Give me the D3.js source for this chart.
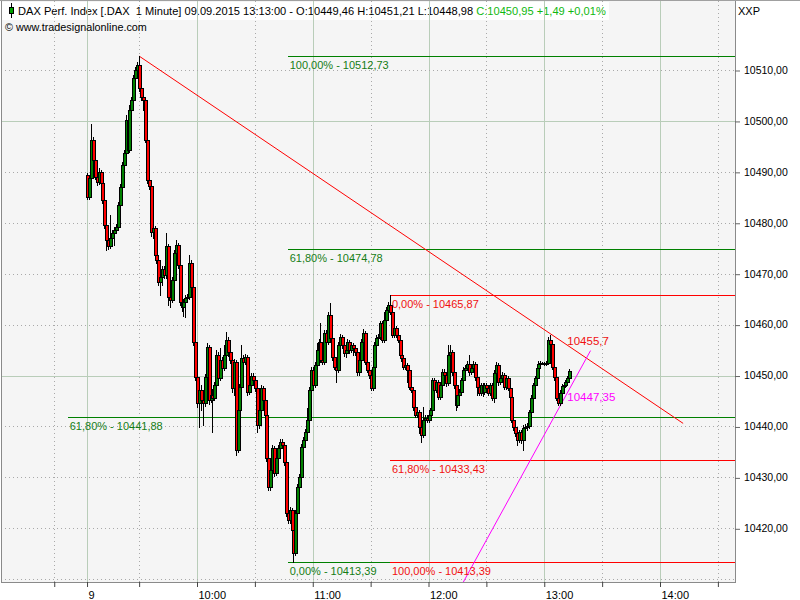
<!DOCTYPE html>
<html><head><meta charset="utf-8">
<script src="https://cdn.jsdelivr.net/npm/d3@7"></script>
<style>
body{margin:0;background:#fff}
svg{display:block}
text{font-family:"Liberation Sans",Arial,sans-serif}
</style>
</head><body>
<svg id="chart" width="800" height="600"></svg>
<script>
// ---------- DATA ----------
const sessionDate = [2015, 8, 9];
const firstBar = "09:03";
const opens = [
10489.4,10485.1,10488.8,10496.3,10492.3,10489.0,10488.0,10490.0,10487.8,10484.5,
10479.6,10476.6,10475.4,10477.0,10478.0,10478.6,10479.2,10483.5,10487.0,10491.4,
10493.7,10500.2,10494.3,10502.2,10504.1,10508.4,10510.0,10511.0,10506.5,10504.7,
10504.1,10496.3,10488.4,10487.2,10478.2,10479.0,10473.7,10472.7,10468.4,10469.4,
10470.9,10469.7,10475.4,10465.4,10464.8,10468.8,10474.1,10475.6,10471.7,10464.4,
10463.5,10464.4,10465.2,10465.4,10472.1,10467.4,10456.6,10449.7,10444.6,10447.2,
10445.2,10444.6,10449.7,10455.6,10445.2,10446.2,10445.6,10448.1,10454.0,10449.5,
10453.1,10451.5,10454.0,10457.0,10454.6,10453.1,10447.6,10452.7,10435.4,10443.2,
10447.8,10453.4,10452.7,10453.6,10446.8,10448.1,10449.9,10449.1,10447.6,10440.3,
10443.2,10447.6,10445.2,10442.3,10433.8,10428.1,10431.5,10435.8,10430.9,10433.8,
10435.8,10437.0,10436.4,10433.0,10423.0,10421.6,10423.6,10419.7,10415.2,10423.0,
10428.1,10430.1,10436.0,10437.3,10438.9,10441.3,10447.2,10451.1,10448.1,10452.1,
10455.0,10456.6,10453.1,10452.7,10458.4,10456.6,10461.9,10457.4,10453.6,10451.7,
10451.1,10456.0,10457.6,10456.0,10454.4,10455.0,10456.6,10455.0,10456.0,10455.4,
10454.6,10450.7,10453.1,10456.6,10458.4,10452.7,10451.1,10450.1,10447.6,10451.7,
10456.0,10457.4,10457.6,10460.3,10457.0,10460.9,10462.9,10463.9,10462.5,10458.0,
10459.3,10458.0,10457.0,10454.0,10453.4,10451.7,10452.1,10451.1,10447.8,10447.2,
10443.8,10442.3,10442.8,10439.9,10438.3,10441.3,10441.7,10441.3,10442.3,10443.2,
10449.1,10447.2,10448.7,10445.8,10448.1,10450.7,10450.1,10448.5,10454.0,10454.6,
10450.7,10448.1,10444.2,10446.2,10446.8,10449.1,10451.1,10451.5,10452.3,10450.7,
10451.5,10452.3,10449.7,10447.8,10446.6,10448.1,10446.8,10448.1,10447.6,10446.6,
10448.1,10445.6,10450.5,10452.1,10448.7,10449.5,10450.1,10447.8,10449.5,10447.6,
10445.8,10441.3,10439.9,10438.7,10437.3,10438.9,10437.3,10439.7,10439.9,10440.1,
10442.8,10445.6,10448.1,10449.5,10451.5,10452.3,10452.5,10452.4,10452.3,10452.5,
10457.0,10456.2,10451.7,10449.7,10445.6,10444.6,10446.6,10447.9,10448.1,10448.7,
10449.46];
const highs = [
10489.8,10489.2,10499.4,10496.8,10493.7,10489.9,10490.8,10490.4,10488.2,10484.9,
10480.2,10478.0,10481.5,10478.6,10479.2,10479.8,10484.1,10487.6,10491.9,10494.3,
10501.2,10500.6,10503.1,10504.7,10509.0,10510.6,10511.6,10512.73,10507.2,10505.7,
10504.5,10496.7,10488.8,10487.6,10479.6,10479.4,10474.3,10473.1,10469.9,10471.5,
10471.5,10478.0,10475.8,10466.0,10469.4,10474.6,10476.6,10476.1,10472.1,10464.9,
10465.0,10465.8,10466.0,10473.7,10472.6,10467.9,10457.0,10450.1,10447.8,10448.1,
10446.2,10450.3,10456.4,10456.0,10449.7,10447.4,10448.7,10455.0,10454.6,10455.4,
10453.6,10456.0,10458.6,10457.5,10455.0,10453.5,10453.2,10453.1,10443.7,10448.3,
10456.0,10454.0,10454.2,10454.1,10448.7,10450.4,10450.5,10449.6,10448.0,10443.8,
10448.2,10448.0,10445.7,10442.7,10434.2,10432.0,10436.3,10436.2,10434.4,10436.4,
10437.6,10437.5,10436.8,10433.4,10423.5,10424.2,10424.0,10420.1,10423.5,10428.7,
10430.7,10436.5,10437.9,10439.5,10443.6,10447.8,10451.7,10451.6,10452.6,10456.4,
10457.2,10460.3,10453.6,10459.0,10458.9,10462.5,10464.2,10457.9,10454.0,10452.2,
10456.5,10458.2,10458.0,10456.4,10455.5,10457.1,10457.0,10456.5,10456.4,10455.9,
10455.0,10453.6,10457.1,10459.2,10458.8,10453.1,10451.5,10450.5,10452.2,10456.5,
10457.9,10458.1,10460.8,10460.7,10462.5,10463.4,10464.4,10465.87,10462.9,10459.8,
10459.7,10458.4,10457.4,10454.4,10453.8,10452.6,10452.5,10451.5,10448.3,10447.6,
10444.2,10443.3,10443.2,10440.3,10443.9,10442.2,10442.2,10442.8,10443.7,10449.6,
10449.6,10449.2,10449.1,10448.6,10451.2,10451.2,10450.5,10456.0,10456.0,10455.0,
10451.1,10448.5,10446.7,10447.3,10449.6,10451.6,10452.0,10452.8,10454.0,10452.0,
10452.8,10452.7,10450.1,10448.2,10448.6,10448.5,10448.6,10448.6,10448.0,10448.6,
10448.5,10451.0,10452.7,10452.5,10450.0,10450.6,10450.5,10450.0,10449.9,10448.0,
10446.2,10441.7,10440.3,10439.1,10439.4,10439.3,10440.2,10440.4,10440.6,10443.3,
10446.1,10448.6,10450.0,10452.0,10452.8,10452.8,10452.7,10452.6,10452.8,10457.6,
10458.0,10456.6,10452.1,10450.1,10446.0,10447.1,10448.4,10448.6,10449.2,10450.0,
10451.21];
const lows = [
10484.7,10484.7,10488.4,10491.9,10488.6,10487.5,10487.6,10487.2,10483.9,10479.0,
10474.7,10474.9,10475.0,10476.6,10475.6,10478.2,10478.8,10483.1,10486.6,10490.9,
10493.3,10493.9,10493.9,10501.8,10503.7,10508.0,10509.6,10505.9,10504.1,10502.2,
10495.9,10487.8,10486.6,10477.4,10477.0,10473.3,10472.1,10467.8,10465.8,10467.8,
10469.2,10469.2,10463.9,10463.5,10464.4,10468.4,10473.7,10471.1,10463.9,10462.7,
10461.7,10461.5,10464.6,10465.0,10466.8,10456.0,10449.1,10443.8,10439.9,10443.2,
10440.3,10444.0,10449.3,10444.4,10444.8,10438.9,10445.2,10447.6,10448.9,10449.1,
10449.7,10451.1,10453.6,10453.9,10452.5,10446.8,10446.2,10434.4,10435.0,10442.8,
10447.4,10452.1,10452.3,10446.2,10446.3,10447.7,10448.6,10447.0,10438.9,10439.7,
10442.8,10444.6,10441.7,10433.2,10427.5,10427.6,10431.0,10430.3,10430.4,10433.3,
10435.3,10435.9,10432.5,10422.4,10421.0,10421.1,10419.1,10413.39,10414.8,10422.6,
10427.6,10429.7,10435.5,10436.8,10438.4,10440.9,10446.8,10447.3,10447.7,10451.6,
10454.5,10452.6,10452.2,10452.3,10456.1,10456.2,10456.9,10453.1,10451.2,10448.7,
10450.6,10455.6,10455.5,10453.9,10453.6,10454.6,10454.5,10454.6,10454.0,10454.1,
10450.2,10450.2,10452.7,10456.2,10452.2,10450.6,10449.6,10447.1,10447.2,10451.3,
10455.6,10456.9,10457.2,10456.5,10456.6,10460.5,10462.5,10462.0,10457.5,10457.6,
10457.5,10456.5,10453.5,10452.9,10451.2,10451.3,10448.7,10447.3,10446.7,10443.3,
10441.8,10441.9,10438.7,10437.0,10437.9,10440.8,10440.8,10440.9,10441.9,10442.8,
10446.7,10446.8,10445.4,10445.4,10447.7,10449.6,10448.0,10448.1,10453.6,10450.2,
10447.6,10443.2,10443.8,10445.7,10446.4,10448.7,10450.6,10451.1,10450.2,10450.3,
10451.1,10449.2,10446.2,10446.1,10446.2,10446.0,10446.4,10447.1,10446.1,10446.2,
10445.1,10444.8,10450.1,10448.2,10448.3,10449.1,10447.3,10447.4,10447.1,10445.3,
10440.8,10439.4,10438.2,10436.4,10436.9,10436.8,10435.4,10439.2,10439.4,10439.7,
10442.4,10445.2,10447.7,10449.1,10451.1,10452.1,10452.2,10452.1,10452.1,10452.2,
10455.8,10451.2,10449.2,10445.1,10444.2,10444.2,10446.2,10447.5,10447.7,10448.3,
10448.98];
const closes = [
10485.1,10488.8,10496.3,10492.3,10489.0,10488.0,10490.0,10487.8,10484.5,10479.6,
10476.6,10475.4,10477.0,10478.0,10478.6,10479.2,10483.5,10487.0,10491.4,10493.7,
10500.2,10494.3,10502.2,10504.1,10508.4,10510.0,10511.0,10506.5,10504.7,10504.1,
10496.3,10488.4,10487.2,10478.2,10479.0,10473.7,10472.7,10468.4,10469.4,10470.9,
10469.7,10475.4,10465.4,10464.8,10468.8,10474.1,10475.6,10471.7,10464.4,10463.5,
10464.4,10465.2,10465.4,10472.1,10467.4,10456.6,10449.7,10444.6,10447.2,10445.2,
10444.6,10449.7,10455.6,10445.2,10446.2,10445.6,10448.1,10454.0,10449.5,10453.1,
10451.5,10454.0,10457.0,10454.6,10453.1,10447.6,10452.7,10435.4,10443.2,10447.8,
10453.4,10452.7,10453.6,10446.8,10448.1,10449.9,10449.1,10447.6,10440.3,10443.2,
10447.6,10445.2,10442.3,10433.8,10428.1,10431.5,10435.8,10430.9,10433.8,10435.8,
10437.0,10436.4,10433.0,10423.0,10421.6,10423.6,10419.7,10415.2,10423.0,10428.1,
10430.1,10436.0,10437.3,10438.9,10441.3,10447.2,10451.1,10448.1,10452.1,10455.0,
10456.6,10453.1,10452.7,10458.4,10456.6,10461.9,10457.4,10453.6,10451.7,10451.1,
10456.0,10457.6,10456.0,10454.4,10455.0,10456.6,10455.0,10456.0,10455.4,10454.6,
10450.7,10453.1,10456.6,10458.4,10452.7,10451.1,10450.1,10447.6,10451.7,10456.0,
10457.4,10457.6,10460.3,10457.0,10460.9,10462.9,10463.9,10462.5,10458.0,10459.3,
10458.0,10457.0,10454.0,10453.4,10451.7,10452.1,10451.1,10447.8,10447.2,10443.8,
10442.3,10442.8,10439.9,10438.3,10441.3,10441.7,10441.3,10442.3,10443.2,10449.1,
10447.2,10448.7,10445.8,10448.1,10450.7,10450.1,10448.5,10454.0,10454.6,10450.7,
10448.1,10444.2,10446.2,10446.8,10449.1,10451.1,10451.5,10452.3,10450.7,10451.5,
10452.3,10449.7,10447.8,10446.6,10448.1,10446.8,10448.1,10447.6,10446.6,10448.1,
10445.6,10450.5,10452.1,10448.7,10449.5,10450.1,10447.8,10449.5,10447.6,10445.8,
10441.3,10439.9,10438.7,10437.3,10438.9,10437.3,10439.7,10439.9,10440.1,10442.8,
10445.6,10448.1,10449.5,10451.5,10452.3,10452.5,10452.4,10452.3,10452.5,10457.0,
10456.2,10451.7,10449.7,10445.6,10444.6,10446.6,10447.9,10448.1,10448.7,10449.46,
10450.95];

const yLabelTicks = [10420,10430,10440,10450,10460,10470,10480,10490,10500,10510];
const yGridDotted = [10410,10420,10430,10440,10460,10470,10480,10490,10510];
const yGridSolid = [10450,10500];
const xMajorTicks = ["09:03","10:00","11:00","12:00","13:00","14:00"];
const xMajorLabels = ["9","10:00","11:00","12:00","13:00","14:00"];
const xMinorTicks = ["08:46","09:30","10:30","11:30","12:30","13:30","14:30"];

const fibLabels = ["100,00% - 10512,73","61,80% - 10474,78","0,00% - 10413,39","61,80% - 10441,88",
                   "0,00% - 10465,87","61,80% - 10433,43","100,00% - 10413,39"];
const fibValues = [10512.73,10474.78,10413.39,10441.88,10465.87,10433.43,10413.39];
const fibStarts = ["10:47","10:47","10:47","08:53","11:40","11:40","11:40"];
const fibColors = ["green","green","green","green","red","red","red"];

const redTrend = [["09:30",10512.73],["14:12",10440.6]];
const redTrendLabel = "10455,7";
const magentaTrend = [["12:18",10409.4],["13:24",10454.9]];
const magentaTrendLabel = "10447,35";

const headerBlack = "DAX Perf. Index [.DAX  1 Minute] 09.09.2015 13:13:00 - O:10449,46 H:10451,21 L:10448,98 ";
const headerGreen = "C:10450,95 +1,49 +0,01%";
const copyright = "\u00a9 www.tradesignalonline.com";
const axisUnit = "XXP";

// ---------- LAYOUT ----------
const P = {left:1, top:1, right:735, bottom:582};
const COL = {
  bg:"#f5f5f5", grid:"#b9cdb9", dot:"#a9a9a9", frame:"#8a8a8a",
  up:"#008000", down:"#ff0000", fibG:"#008000", fibGText:"#157d15",
  fibR:"#ff0000", fibRText:"#f01010", mag:"#ff00ff", hdrGreen:"#10b810"
};
const parseT = s => { const [h,m] = s.split(":").map(Number); return new Date(sessionDate[0],sessionDate[1],sessionDate[2],h,m); };

const x = d3.scaleTime().domain([parseT("10:00"), parseT("14:00")]).range([197, 660]);
const y = d3.scaleLinear().domain([10420, 10510]).range([528.3, 70]);

const svg = d3.select("#chart");
svg.append("rect").attr("width",800).attr("height",600).attr("fill","#fff");
svg.append("defs").append("clipPath").attr("id","clip")
  .append("rect").attr("x",P.left).attr("y",P.top).attr("width",P.right-P.left).attr("height",P.bottom-P.top);

svg.append("rect").attr("x",P.left).attr("y",P.top).attr("width",P.right-P.left).attr("height",P.bottom-P.top).attr("fill",COL.bg);

// header with white box
const hdr = svg.append("g");
const hdrText = hdr.append("text").attr("x",18).attr("y",15).attr("font-size","11.1px").style("white-space","pre");
hdrText.append("tspan").attr("fill","#000").text(headerBlack);
hdrText.append("tspan").attr("fill",COL.hdrGreen).text(headerGreen);
const hb = hdrText.node().getBBox();
hdr.insert("rect","text").attr("x",2).attr("y",2).attr("width",hb.x+hb.width+3-2).attr("height",18).attr("fill","#fff");

// grid
const grid = svg.append("g").attr("shape-rendering","crispEdges");
xMajorTicks.forEach(t=>{
  const px = Math.round(x(parseT(t)))+0.5;
  grid.append("line").attr("x1",px).attr("x2",px).attr("y1",P.top).attr("y2",P.bottom).attr("stroke",COL.grid);
});
xMinorTicks.forEach(t=>{
  const px = Math.round(x(parseT(t)))+0.5;
  if (px > P.right) return;
  grid.append("line").attr("x1",px).attr("x2",px).attr("y1",P.top).attr("y2",P.bottom).attr("stroke",COL.dot).attr("stroke-dasharray","1,3");
});
yGridSolid.forEach(v=>{
  const py = Math.round(y(v))+0.5;
  grid.append("line").attr("x1",P.left).attr("x2",P.right).attr("y1",py).attr("y2",py).attr("stroke",COL.grid);
});
yGridDotted.forEach(v=>{
  const py = Math.round(y(v))+0.5;
  grid.append("line").attr("x1",P.left).attr("x2",P.right).attr("y1",py).attr("y2",py).attr("stroke",COL.dot).attr("stroke-dasharray","1,3");
});

// header icon
const ic = svg.append("g").attr("shape-rendering","crispEdges");
ic.append("rect").attr("x",11).attr("y",3).attr("width",1).attr("height",15).attr("fill","#000");
ic.append("rect").attr("x",9.5).attr("y",7.5).attr("width",4).attr("height",6).attr("fill","#00a000").attr("stroke","#000");

// plot content
const plot = svg.append("g").attr("clip-path","url(#clip)");

// fib lines
const fibG = plot.append("g");
fibValues.forEach((v,i)=>{
  const py = Math.round(y(v))+0.5;
  const col = fibColors[i]==="green" ? COL.fibG : COL.fibR;
  fibG.append("line").attr("x1",x(parseT(fibStarts[i]))).attr("x2",P.right).attr("y1",py).attr("y2",py)
     .attr("stroke",col).attr("stroke-width",1).attr("shape-rendering","crispEdges");
});

// trend lines
const tl = d3.line().x(d=>x(parseT(d[0]))).y(d=>y(d[1]));
plot.append("path").attr("d",tl(redTrend)).attr("fill","none").attr("stroke",COL.fibR).attr("stroke-width",1);
plot.append("path").attr("d",tl(magentaTrend)).attr("fill","none").attr("stroke",COL.mag).attr("stroke-width",1);

// candles
const t0 = parseT(firstBar);
const bars = closes.map((c,i)=>({t:d3.timeMinute.offset(t0,i), o:opens[i], h:highs[i], l:lows[i], c:c}));
const cg = plot.append("g").attr("shape-rendering","crispEdges");
bars.forEach(b=>{
  const cx = Math.round(x(b.t));
  const yh = Math.round(y(b.h)), yl = Math.round(y(b.l));
  cg.append("rect").attr("x",cx).attr("y",yh).attr("width",1).attr("height",Math.max(1,yl-yh+1)).attr("fill","#000");
});
bars.forEach(b=>{
  const cx = Math.round(x(b.t));
  const top = Math.round(y(Math.max(b.o,b.c))), bot = Math.round(y(Math.min(b.o,b.c)));
  const h = bot - top + 1;
  cg.append("rect").attr("x",cx-1).attr("y",top).attr("width",4).attr("height",Math.max(1,h)).attr("fill","#000");
  if (h > 2) {
    cg.append("rect").attr("x",cx).attr("y",top+1).attr("width",2).attr("height",h-2)
      .attr("fill", b.c >= b.o ? COL.up : COL.down);
  }
});

// fib labels
fibValues.forEach((v,i)=>{
  svg.append("text").attr("x",x(parseT(fibStarts[i]))+2).attr("y",y(v)+13).attr("font-size","11px")
     .attr("fill",fibColors[i]==="green" ? COL.fibGText : COL.fibRText).text(fibLabels[i]);
});

// trend labels at last bar
const lastT = bars[bars.length-1].t;
const lineVal = (pts,t) => { const a=parseT(pts[0][0]), b=parseT(pts[1][0]); return pts[0][1] + (pts[1][1]-pts[0][1])*(t-a)/(b-a); };
svg.append("text").attr("x",x(lastT)-2).attr("y",y(lineVal(redTrend,lastT))-2).attr("font-size","11.5px").attr("fill",COL.fibRText).text(redTrendLabel);
svg.append("text").attr("x",x(lastT)-2).attr("y",y(lineVal(magentaTrend,lastT))+12).attr("font-size","11.5px").attr("fill",COL.mag).text(magentaTrendLabel);

// copyright
svg.append("text").attr("x",5).attr("y",31).attr("font-size","10.8px").attr("fill","#000").text(copyright);

// frame
svg.append("rect").attr("x",P.left+0.5).attr("y",P.top-0.5).attr("width",P.right-P.left).attr("height",P.bottom-P.top+1)
  .attr("fill","none").attr("stroke",COL.frame).attr("shape-rendering","crispEdges");
svg.append("line").attr("x1",0).attr("x2",800).attr("y1",0.5).attr("y2",0.5).attr("stroke","#a0a0a0");

// y axis
const yAxis = d3.axisRight(y).tickValues(yLabelTicks).tickSize(5).tickPadding(4)
  .tickFormat(d => d3.format(".2f")(d).replace(".",","));
const ya = svg.append("g").attr("transform",`translate(${P.right},0)`).call(yAxis);
ya.select(".domain").remove();
ya.selectAll("line").attr("stroke","#666").attr("transform","translate(0,0.5)");
ya.selectAll("text").attr("font-size","10.5px").attr("fill","#000").attr("font-family","Liberation Sans, Arial, sans-serif");
svg.append("text").attr("x",738).attr("y",15).attr("font-size","11px").attr("fill","#000").text(axisUnit);

// x axis
const xa = svg.append("g").attr("transform",`translate(0,${P.bottom})`);
xa.call(d3.axisBottom(x).tickValues(xMajorTicks.map(parseT)).tickSize(5)
   .tickFormat((d,i)=>xMajorLabels[i]));
xa.select(".domain").remove();
xa.selectAll("line").attr("stroke","#444");
xa.selectAll("text").attr("font-size","11px").attr("fill","#000").attr("text-anchor","start").attr("dx","1").attr("y",9)
  .attr("font-family","Liberation Sans, Arial, sans-serif");
const xm = svg.append("g").attr("transform",`translate(0,${P.bottom})`);
xm.call(d3.axisBottom(x).tickValues(xMinorTicks.map(parseT).filter(d=>x(d)<P.right)).tickSize(5).tickFormat(""));
xm.select(".domain").remove();
xm.selectAll("line").attr("stroke","#444");
</script>
</body></html>
